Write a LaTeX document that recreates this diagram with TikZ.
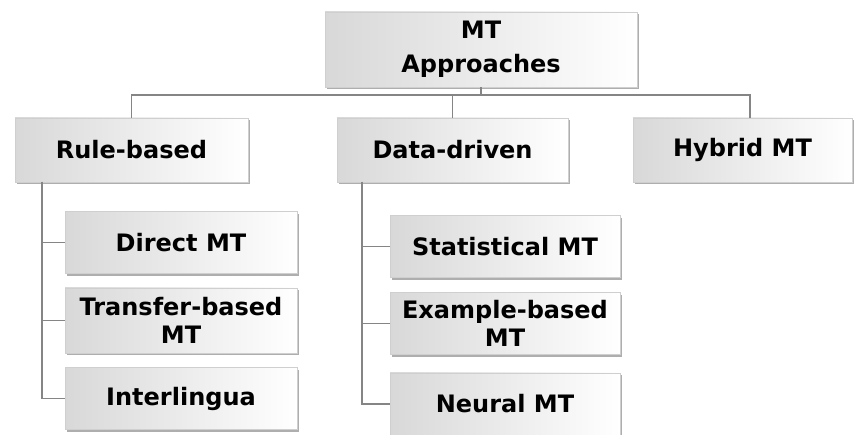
\documentclass[tikz,border=0pt]{standalone}
\usepackage{fontspec}
\setmainfont{DejaVu Sans}
\usepackage{xcolor}
\usetikzlibrary{shadows}
\definecolor{linegray}{HTML}{858585}
\definecolor{boxgray}{HTML}{D8D8D8}
\definecolor{edgegray}{HTML}{CFCFCF}

\begin{document}
\begin{tikzpicture}[
  x=1pt,y=-1pt,
  box/.style={draw=edgegray,line width=0.6pt,align=center,inner sep=0pt,
    left color=boxgray,right color=white,
    font=\fontsize{24}{28}\selectfont\bfseries,
    drop shadow={shadow xshift=1.5pt,shadow yshift=-2.5pt,fill=black!45,opacity=0.7}},
  level/.style={box,minimum height=64pt},
  leaf/.style={box,minimum width=232pt,minimum height=62pt},
  link/.style={draw=linegray,line width=1.8pt}
]
\useasboundingbox (0,0) rectangle (854,435);
% root
\node[box,minimum width=312pt,minimum height=75pt,
  font=\fontsize{24}{34}\selectfont\bfseries] (mt) at (481,49.5) {MT\\Approaches};
% approaches
\node[level,minimum width=233pt] (rule) at (131.5,150) {Rule-based};
\node[level,minimum width=231pt] (data) at (452.5,150) {Data-driven};
\node[level,minimum width=219pt] (hybrid) at (742.5,150) {Hybrid MT};
% rule-based children
\node[leaf] (direct) at (181,242.5) {Direct MT};
\node[leaf,minimum height=65pt] (transfer) at (181,320.5) {Transfer-based\\MT};
\node[leaf] (inter) at (181,398.5) {Interlingua};
% data-driven children
\node[leaf,minimum width=230pt] (stat) at (505,246.5) {Statistical MT};
\node[leaf,minimum width=230pt] (example) at (505,323.5) {Example-based\\MT};
\node[leaf,minimum width=230pt] (neural) at (505,404) {Neural MT};

\coordinate (bus) at (481,95);
\coordinate (rulestem) at (42,182);
\coordinate (datastem) at (362,182);
\draw[link] (mt.south) -- (bus);
\draw[link] (bus) -| (rule.north);
\draw[link] (bus) -| (data.north);
\draw[link] (bus) -| ([xshift=7.5pt]hybrid.north);
\draw[link] (rulestem) |- (direct.west);
\draw[link] (rulestem) |- (transfer.west);
\draw[link] (rulestem) |- (inter.west);
\draw[link] (datastem) |- (stat.west);
\draw[link] (datastem) |- (example.west);
\draw[link] (datastem) |- (neural.west);
\end{tikzpicture}
\end{document}
